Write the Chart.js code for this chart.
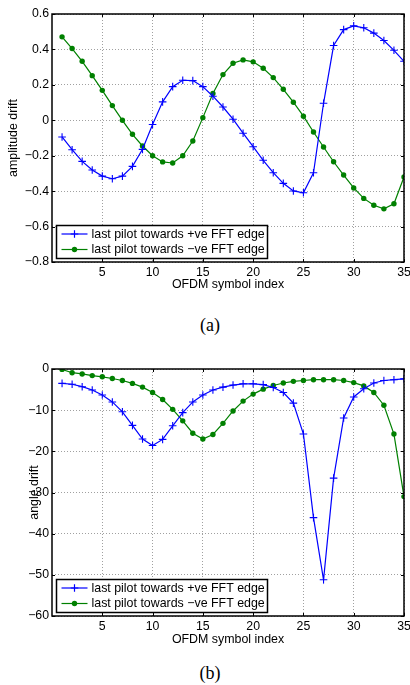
<!DOCTYPE html>
<html>
<head>
<meta charset="utf-8">
<script src="https://cdn.jsdelivr.net/npm/chart.js@4.4.1/dist/chart.umd.min.js"></script>
<style>
  body { margin: 0; background: #fff; width: 410px; height: 685px; position: relative; overflow: hidden; }
  canvas { position: absolute; left: 0; }
  #chartA { top: 0; }
  #chartB { top: 350px; }
  .caption { position: absolute; left: 10px; width: 400px; text-align: center; font-family: "Liberation Serif", "DejaVu Serif", serif; font-size: 18px; line-height: 20px; color: #000; }
</style>
</head>
<body>
<canvas id="chartA" width="410" height="300"></canvas>
<div class="caption" style="top:315px">(a)</div>
<canvas id="chartB" width="410" height="300"></canvas>
<div class="caption" style="top:663px">(b)</div>
<script>
// x positions (OFDM symbol index)
const symbolIndex = [1, 2, 3, 4, 5, 6, 7, 8, 9, 10, 11, 12, 13, 14, 15, 16, 17, 18, 19, 20,
                     21, 22, 23, 24, 25, 26, 27, 28, 29, 30, 31, 32, 33, 34, 35];
const xTicks = [5, 10, 15, 20, 25, 30, 35];
const ampTicks = [-0.8, -0.6, -0.4, -0.2, 0, 0.2, 0.4, 0.6];
const angleTicks = [-60, -50, -40, -30, -20, -10, 0];
const seriesLabels = ['last pilot towards +ve FFT edge', 'last pilot towards \u2212ve FFT edge'];

// (a) amplitude drift
const ampPlus = [-0.094, -0.166, -0.232, -0.281, -0.315, -0.330, -0.315, -0.260, -0.164, -0.024,
                 0.104, 0.190, 0.226, 0.224, 0.190, 0.136, 0.075, 0.006, -0.073, -0.149,
                 -0.226, -0.296, -0.356, -0.399, -0.409, -0.296, 0.096, 0.422, 0.512, 0.533,
                 0.522, 0.492, 0.450, 0.395, 0.333];
const ampMinus = [0.471, 0.405, 0.333, 0.252, 0.169, 0.083, 0.000, -0.079, -0.145, -0.200,
                  -0.235, -0.241, -0.200, -0.117, 0.015, 0.151, 0.258, 0.322, 0.341, 0.330,
                  0.294, 0.241, 0.175, 0.102, 0.023, -0.066, -0.151, -0.234, -0.309, -0.382,
                  -0.441, -0.480, -0.500, -0.471, -0.320];

// (b) angle drift
const anglePlus = [-3.5, -3.7, -4.3, -5.1, -6.3, -8.0, -10.4, -13.7, -17.0, -18.6,
                   -17.1, -13.8, -10.6, -8.0, -6.3, -5.1, -4.4, -3.9, -3.6, -3.6,
                   -3.8, -4.5, -5.7, -8.3, -15.8, -36.1, -51.2, -26.5, -11.9, -6.8,
                   -4.8, -3.4, -2.8, -2.6, -2.4];
const angleMinus = [-0.1, -0.9, -1.2, -1.6, -1.9, -2.3, -2.8, -3.5, -4.4, -5.7,
                    -7.4, -9.8, -12.6, -15.6, -17.0, -15.9, -13.2, -10.2, -7.8, -6.1,
                    -4.9, -4.0, -3.4, -3.0, -2.8, -2.6, -2.6, -2.6, -2.8, -3.3,
                    -4.1, -5.7, -8.8, -15.8, -31.0];

const FONT = '"Liberation Sans", Arial, Helvetica, sans-serif';
Chart.defaults.font.family = FONT;

function fmt(v) {
    return (v < 0 ? '\u2212' : '') + Math.abs(v);
}

// axes box, inward ticks and legend drawn inside the plot like MATLAB
const frameBox = {
    id: 'frameBox',
    afterDraw(chart, args, opts) {
        const { ctx, chartArea: a, scales } = chart;
        ctx.save();
        ctx.strokeStyle = '#000';
        ctx.lineWidth = 1;
        ctx.beginPath();
        scales.x.ticks.forEach(t => {
            const px = Math.round(scales.x.getPixelForValue(t.value)) + 0.5;
            ctx.moveTo(px, a.top); ctx.lineTo(px, a.top + 3);
            ctx.moveTo(px, a.bottom); ctx.lineTo(px, a.bottom - 3);
        });
        scales.y.ticks.forEach(t => {
            const py = Math.round(scales.y.getPixelForValue(t.value)) + 0.5;
            ctx.moveTo(a.left, py); ctx.lineTo(a.left + 3, py);
            ctx.moveTo(a.right, py); ctx.lineTo(a.right - 3, py);
        });
        ctx.stroke();
        ctx.lineWidth = 1.5;
        ctx.strokeRect(Math.round(a.left), Math.round(a.top), Math.round(a.right - a.left), Math.round(a.bottom - a.top));

        // legend box
        const w = 211, h = 33;
        const lx = Math.round(a.left) + 4.5;
        const ly = Math.round(a.bottom) - opts.gap - h + 0.5;
        ctx.fillStyle = '#fff';
        ctx.fillRect(lx, ly, w, h);
        ctx.lineWidth = 1.5;
        ctx.strokeStyle = '#000';
        ctx.strokeRect(lx, ly, w, h);
        chart.data.datasets.forEach((ds, i) => {
            const y = ly + 8.5 + i * 15.5;
            ctx.strokeStyle = ds.borderColor;
            ctx.fillStyle = ds.backgroundColor;
            ctx.lineWidth = ds.borderWidth;
            ctx.beginPath();
            ctx.moveTo(lx + 5, y);
            ctx.lineTo(lx + 31, y);
            ctx.stroke();
            Chart.helpers.drawPoint(ctx, {
                pointStyle: ds.pointStyle, radius: ds.pointRadius,
                borderWidth: ds.pointBorderWidth, rotation: 0
            }, lx + 18, y);
            ctx.fillStyle = '#000';
            ctx.font = '12.4px ' + FONT;
            ctx.textBaseline = 'middle';
            ctx.textAlign = 'left';
            ctx.fillText(ds.label, lx + 35, y + 0.5);
        });
        ctx.restore();
    }
};

function buildChart(id, plus, minus, yTicks, yTitle, geo) {
    const tickFont = { family: FONT, size: 12.3 };
    return new Chart(document.getElementById(id), {
        type: 'line',
        data: {
            datasets: [
                {
                    label: seriesLabels[0],
                    data: symbolIndex.map((x, i) => ({ x, y: plus[i] })),
                    borderColor: '#0000ff',
                    backgroundColor: '#0000ff',
                    borderWidth: 1.2,
                    pointStyle: 'cross',
                    pointRadius: 3.8,
                    pointBorderWidth: 1.1,
                    tension: 0
                },
                {
                    label: seriesLabels[1],
                    data: symbolIndex.map((x, i) => ({ x, y: minus[i] })),
                    borderColor: '#008000',
                    backgroundColor: '#008000',
                    borderWidth: 1.2,
                    pointStyle: 'circle',
                    pointRadius: 2.7,
                    pointBorderWidth: 0,
                    tension: 0
                }
            ]
        },
        options: {
            responsive: false,
            animation: false,
            devicePixelRatio: 1,
            layout: { padding: { left: 0, right: 6, top: geo.top, bottom: 0 } },
            plugins: {
                legend: { display: false },
                tooltip: { enabled: false },
                frameBox: { gap: geo.gap }
            },
            scales: {
                x: {
                    type: 'linear',
                    min: 0,
                    max: 35,
                    afterBuildTicks: s => { s.ticks = xTicks.map(v => ({ value: v })); },
                    afterFit: s => { s.height = geo.xh; s.paddingLeft = 0; s.paddingRight = 0; },
                    grid: { color: '#a0a0a0', lineWidth: 1, drawTicks: false },
                    border: { display: false, dash: [1, 2] },
                    ticks: { color: '#000', font: tickFont, padding: 3, maxRotation: 0, autoSkip: false, callback: v => fmt(v) },
                    title: {
                        display: true, text: 'OFDM symbol index', color: '#000',
                        font: { family: FONT, size: 12.4 }, padding: { top: 0, bottom: geo.xtp }
                    }
                },
                y: {
                    type: 'linear',
                    min: yTicks[0],
                    max: yTicks[yTicks.length - 1],
                    afterBuildTicks: s => { s.ticks = yTicks.map(v => ({ value: v })); },
                    afterFit: s => { s.width = 52; s.paddingTop = 0; s.paddingBottom = 0; },
                    grid: { color: '#a0a0a0', lineWidth: 1, drawTicks: false },
                    border: { display: false, dash: [1, 2] },
                    ticks: { color: '#000', font: tickFont, padding: 3, autoSkip: false, callback: v => fmt(v) },
                    title: {
                        display: true, text: yTitle, color: '#000',
                        font: { family: FONT, size: 12.4 }, padding: { top: geo.ytp, bottom: 0 }
                    }
                }
            }
        },
        plugins: [frameBox]
    });
}

buildChart('chartA', ampPlus, ampMinus, ampTicks, 'amplitude drift',
    { top: 14, xh: 38, xtp: 7.6, ytp: 6, gap: 4 });
buildChart('chartB', anglePlus, angleMinus, angleTicks, 'angle drift',
    { top: 19, xh: 34, xtp: 2.6, ytp: 27.6, gap: 4 });
</script>
</body>
</html>
